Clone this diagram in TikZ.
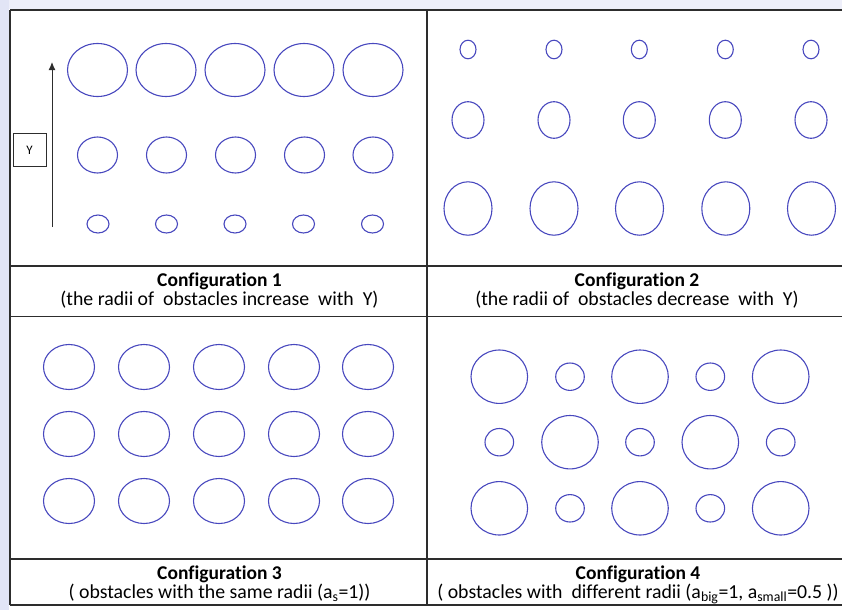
\documentclass[tikz,border=0pt]{standalone}
\usepackage{fontspec}
\setmainfont{Carlito}[Ligatures=NoCommon]
\usepackage{tikz}
\usetikzlibrary{calc,positioning,arrows.meta}

\definecolor{obstblue}{RGB}{72,72,190}
\definecolor{gridgray}{RGB}{45,45,45}
\definecolor{slideblue}{RGB}{226,229,246}

\tikzset{
  obst/.style={draw=obstblue, line width=1.1pt},
  gridline/.style={draw=gridgray, line width=1.3pt},
  captitle/.style={font=\fontsize{19.5}{22}\selectfont\bfseries, inner sep=0pt, anchor=base},
  capnote/.style={font=\fontsize{19.8}{22}\selectfont, inner sep=0pt, anchor=base}
}

\begin{document}
\begin{tikzpicture}[x=1pt,y=-1pt]
\useasboundingbox (0,0) rectangle (842,610);
% slide background
\fill[slideblue] (0,0) rectangle (9,610);
\fill[slideblue!60] (9,0) rectangle (842,9);

% Table
\draw[gridline] (10,10) -- (842,10);
\draw[gridline] (10,266) -- (842,266);
\draw[gridline] (10,316.5) -- (842,316.5);
\draw[gridline] (10,559) -- (842,559);
\draw[gridline] (10,605) -- (842,605);
\draw[gridline] (10,10) -- (10,605);
\draw[gridline] (427,10) -- (427,605);

% Configuration 1
\begin{scope}
\draw[obst] (97.5,70) ellipse (30 and 26.5) (166,70) ellipse (30 and 26.5) (235,70) ellipse (30 and 26.5) (304,70) ellipse (30 and 26.5) (373,70) ellipse (30 and 26.5);
\draw[obst] (97.5,155) ellipse (20 and 18) (166.5,155) ellipse (20 and 18) (235.5,155) ellipse (20 and 18) (304.5,155) ellipse (20 and 18) (373,155) ellipse (20 and 18);
\draw[obst] (98,224) ellipse (11 and 9) (166.5,224) ellipse (11 and 9) (235,224) ellipse (11 and 9) (303.5,224) ellipse (11 and 9) (372.5,224) ellipse (11 and 9);
\node[draw=gridgray, line width=0.9pt, minimum width=33pt, minimum height=33pt, inner sep=0pt,
  font=\fontsize{13}{15}\selectfont] (ylab) at (29.5,150) {Y};
\coordinate (ybase) at (52,227);
\coordinate (ytop) at (52,62);
\draw[gridgray, line width=1pt, -{Latex[length=8pt,width=7pt]}] (ybase) -- (ytop);
\node[captitle] (title1) at (219.5,286) {Configuration 1};
\node[capnote] (note1) at ($(title1.base)+(0,19)$) {(the radii of\ \ obstacles increase\ \ with\ \ Y)};
\end{scope}

% Configuration 2
\begin{scope}
\draw[obst] (468,49.5) ellipse (8 and 9.3) (554,49.5) ellipse (8 and 9.3) (639.3,49.5) ellipse (8 and 9.3) (725.3,49.5) ellipse (8 and 9.3) (811,49.5) ellipse (8 and 9.3);
\draw[obst] (468,120) ellipse (16 and 18.3) (554,120) ellipse (16 and 18.3) (639.3,120) ellipse (16 and 18.3) (725.3,120) ellipse (16 and 18.3) (811,120) ellipse (16 and 18.3);
\draw[obst] (468,208.5) ellipse (24 and 26.7) (554,208.5) ellipse (24 and 26.7) (639.5,208.5) ellipse (24 and 26.7) (725.8,208.5) ellipse (24 and 26.7) (811.5,208.5) ellipse (24 and 26.7);
\node[captitle] (title2) at (637,286) {Configuration 2};
\node[capnote] (note2) at ($(title2.base)+(0,19)$) {(the radii of\ \ obstacles decrease\ \ with\ \ Y)};
\end{scope}

% Configuration 3
\begin{scope}
\foreach \row in {367,434,501}{
  \draw[obst] (69,\row) ellipse (25.5 and 22.5) (144,\row) ellipse (25.5 and 22.5) (219,\row) ellipse (25.5 and 22.5) (294,\row) ellipse (25.5 and 22.5) (368,\row) ellipse (25.5 and 22.5);
}
\node[captitle] (title3) at (219.5,579) {Configuration 3};
\node[capnote] (note3) at ($(title3.base)+(0,19.3)$) {( obstacles with the same radii (a\textsubscript{s}=1))};
\end{scope}

% Configuration 4
\begin{scope}
\draw[obst] (499.3,376.7) ellipse (28.3 and 26.7) (640,376.7) ellipse (28.3 and 26.7) (780.7,376.7) ellipse (28.3 and 26.7);
\draw[obst] (570,376.7) ellipse (14.3 and 13.7) (710.3,376.7) ellipse (14.3 and 13.7);
\draw[obst] (570,442.2) ellipse (28.3 and 26.7) (710.3,442.2) ellipse (28.3 and 26.7);
\draw[obst] (499.3,442.2) ellipse (14.3 and 13.7) (640,442.2) ellipse (14.3 and 13.7) (780.7,442.2) ellipse (14.3 and 13.7);
\draw[obst] (499.3,508.3) ellipse (28.3 and 26.7) (640,508.3) ellipse (28.3 and 26.7) (780.7,508.3) ellipse (28.3 and 26.7);
\draw[obst] (570,508.3) ellipse (14.3 and 13.7) (710.3,508.3) ellipse (14.3 and 13.7);
\node[captitle] (title4) at (638,579) {Configuration 4};
\node[capnote] (note4) at ($(title4.base)+(0,19.3)$) {( obstacles with\ \ different radii (a\textsubscript{big}=1, a\textsubscript{small}=0.5 ))};
\end{scope}
\end{tikzpicture}
\end{document}
